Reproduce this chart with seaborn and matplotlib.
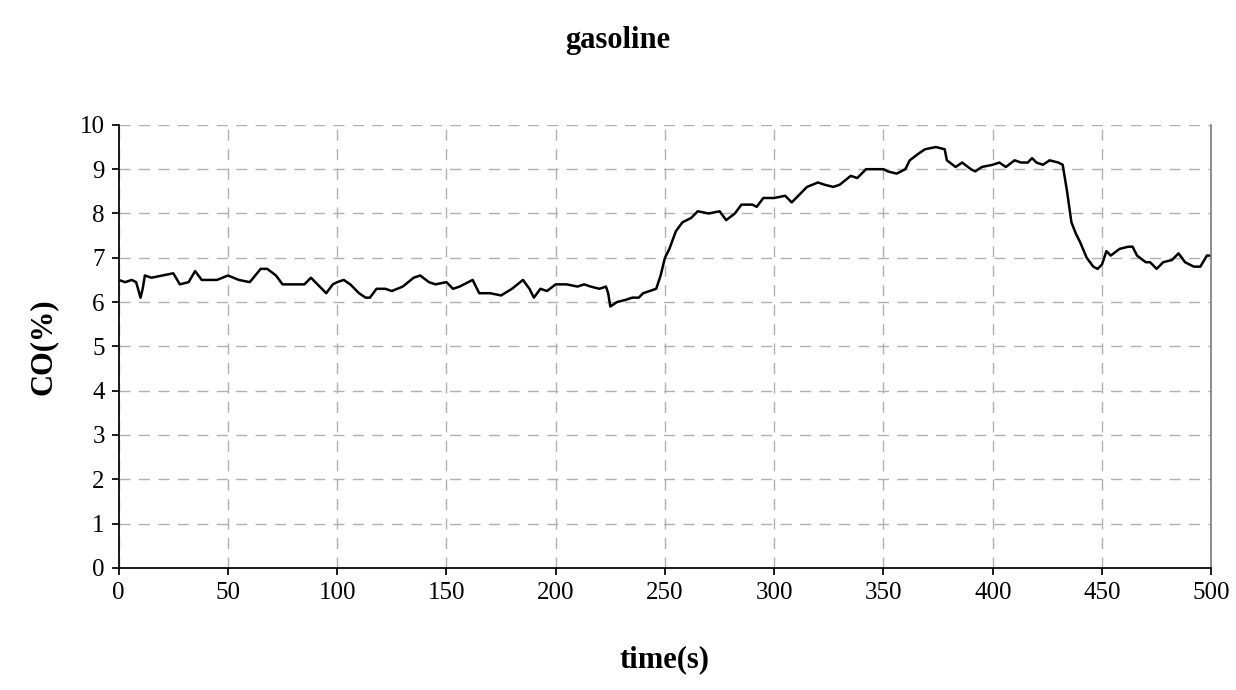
import matplotlib.pyplot as plt
import seaborn as sns
import pandas as pd

sns.set_theme(style="white")
plt.rcParams['font.family'] = ['Liberation Serif', 'DejaVu Serif']
plt.rcParams['text.color'] = 'black'
plt.rcParams['axes.labelcolor'] = 'black'

# CO concentration
time_s = [0, 3, 6, 8, 10, 11, 12, 15, 20, 25, 28, 32, 35, 38, 40, 45, 50, 55, 60, 65,
          68, 72, 75, 80, 85, 88, 90, 93, 95, 98, 100, 103, 106, 110, 113, 115, 118, 122,
          125, 130, 135, 138, 142, 145, 150, 153, 156, 160, 162, 165, 170, 175, 180, 185,
          188, 190, 193, 196, 200, 205, 210, 213, 216, 220, 223, 224, 225, 228, 232, 235,
          238, 240, 243, 246, 248, 250, 252, 255, 258, 262, 265, 270, 275, 278, 282, 285,
          290, 292, 295, 300, 305, 308, 312, 315, 320, 323, 327, 330, 335, 338, 342, 345,
          350, 352, 356, 360, 362, 366, 369, 374, 378, 379, 383, 386, 390, 392, 395, 400,
          403, 406, 410, 413, 416, 418, 420, 423, 426, 430, 432, 434, 436, 438, 440, 443,
          446, 448, 450, 452, 454, 458, 462, 464, 466, 470, 472, 475, 478, 482, 485, 488,
          492, 495, 498, 500]
co_pct = [6.5, 6.45, 6.5, 6.45, 6.1, 6.3, 6.6, 6.55, 6.6, 6.65, 6.4, 6.45, 6.7, 6.5, 6.5,
          6.5, 6.6, 6.5, 6.45, 6.75, 6.75, 6.6, 6.4, 6.4, 6.4, 6.55, 6.45, 6.3, 6.2, 6.4,
          6.45, 6.5, 6.4, 6.2, 6.1, 6.1, 6.3, 6.3, 6.25, 6.35, 6.55, 6.6, 6.45, 6.4, 6.45,
          6.3, 6.35, 6.45, 6.5, 6.2, 6.2, 6.15, 6.3, 6.5, 6.3, 6.1, 6.3, 6.25, 6.4, 6.4,
          6.35, 6.4, 6.35, 6.3, 6.35, 6.2, 5.9, 6.0, 6.05, 6.1, 6.1, 6.2, 6.25, 6.3, 6.6,
          7.0, 7.2, 7.6, 7.8, 7.9, 8.05, 8.0, 8.05, 7.85, 8.0, 8.2, 8.2, 8.15, 8.35, 8.35,
          8.4, 8.25, 8.45, 8.6, 8.7, 8.65, 8.6, 8.65, 8.85, 8.8, 9.0, 9.0, 9.0, 8.95, 8.9,
          9.0, 9.2, 9.35, 9.45, 9.5, 9.45, 9.2, 9.05, 9.15, 9.0, 8.95, 9.05, 9.1, 9.15,
          9.05, 9.2, 9.15, 9.15, 9.25, 9.15, 9.1, 9.2, 9.15, 9.1, 8.5, 7.8, 7.55, 7.35,
          7.0, 6.8, 6.75, 6.85, 7.15, 7.05, 7.2, 7.25, 7.25, 7.05, 6.9, 6.9, 6.75, 6.9,
          6.95, 7.1, 6.9, 6.8, 6.8, 7.05, 7.05]

df = pd.DataFrame({'time': time_s, 'co': co_pct})

fig = plt.figure(figsize=(12.36, 6.9), dpi=100)
ax = fig.add_axes([0.096, 0.177, 0.884, 0.642])

sns.lineplot(data=df, x='time', y='co', ax=ax, color='black', linewidth=1.8)

ax.set_xlim(0, 500)
ax.set_ylim(0, 10)
ax.set_xticks(range(0, 501, 50))
ax.set_yticks(range(0, 11))
ax.grid(True, linestyle=(0, (8, 6)), color='#b0b0b0', linewidth=1)
ax.tick_params(axis='both', labelsize=18, colors='black', direction='out', length=5,
               left=True, bottom=True, pad=5)
for side in ['left', 'bottom']:
    ax.spines[side].set_color('black')
ax.spines['top'].set_visible(False)
ax.spines['right'].set_color('#808080')

ax.set_xlabel('time(s)', fontsize=22, fontweight='bold', labelpad=30)
ax.set_ylabel('CO(%)', fontsize=22, fontweight='bold', labelpad=16)
fig.text(0.5, 0.942, 'gasoline', ha='center', va='center', fontsize=22, fontweight='bold')

fig.savefig('out.png', dpi=100)
